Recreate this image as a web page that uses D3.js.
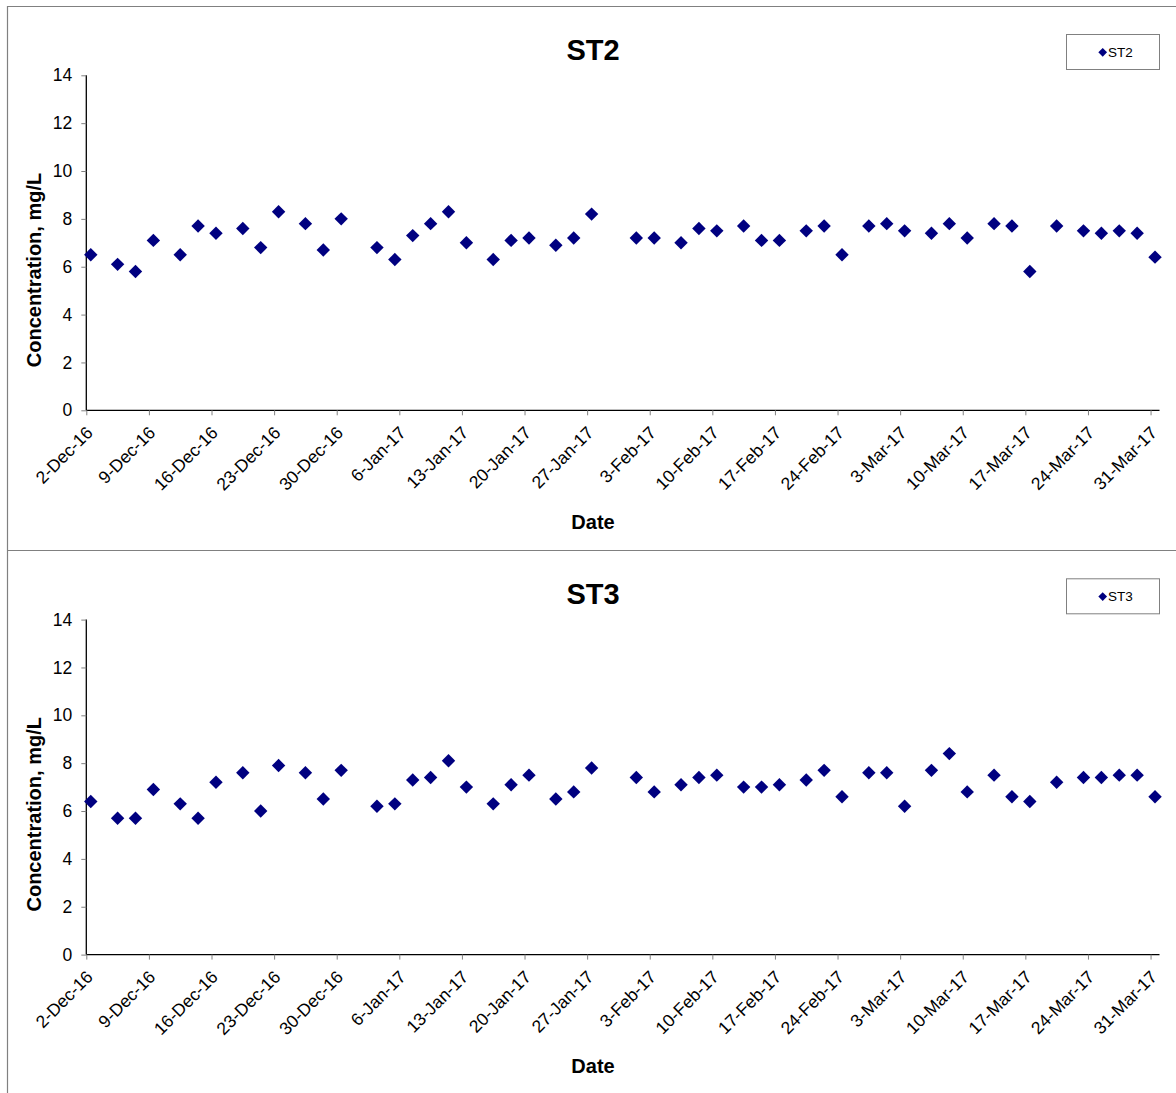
<!DOCTYPE html>
<html>
<head>
<meta charset="utf-8">
<script src="https://cdn.jsdelivr.net/npm/d3@7"></script>
<style>
  html, body { margin: 0; padding: 0; background: #fff; }
  svg { display: block; font-family: Arial, "Liberation Sans", sans-serif; }
</style>
</head>
<body>
<svg id="chart" width="1176" height="1093"></svg>
<script>
// ---- Data ----
const dates = [
  "2016-12-02","2016-12-05","2016-12-07","2016-12-09","2016-12-12","2016-12-14","2016-12-16",
  "2016-12-19","2016-12-21","2016-12-23","2016-12-26","2016-12-28","2016-12-30",
  "2017-01-03","2017-01-05","2017-01-07","2017-01-09","2017-01-11","2017-01-13",
  "2017-01-16","2017-01-18","2017-01-20","2017-01-23","2017-01-25","2017-01-27",
  "2017-02-01","2017-02-03","2017-02-06","2017-02-08","2017-02-10","2017-02-13",
  "2017-02-15","2017-02-17","2017-02-20","2017-02-22","2017-02-24","2017-02-27",
  "2017-03-01","2017-03-03","2017-03-06","2017-03-08","2017-03-10","2017-03-13",
  "2017-03-15","2017-03-17","2017-03-20","2017-03-23","2017-03-25","2017-03-27",
  "2017-03-29","2017-03-31"
];
const st2 = [
  6.5,6.1,5.8,7.1,6.5,7.7,7.4,
  7.6,6.8,8.3,7.8,6.7,8.0,
  6.8,6.3,7.3,7.8,8.3,7.0,
  6.3,7.1,7.2,6.9,7.2,8.2,
  7.2,7.2,7.0,7.6,7.5,7.7,
  7.1,7.1,7.5,7.7,6.5,7.7,
  7.8,7.5,7.4,7.8,7.2,7.8,
  7.7,5.8,7.7,7.5,7.4,7.5,
  7.4,6.4
];
const st3 = [
  6.4,5.7,5.7,6.9,6.3,5.7,7.2,
  7.6,6.0,7.9,7.6,6.5,7.7,
  6.2,6.3,7.3,7.4,8.1,7.0,
  6.3,7.1,7.5,6.5,6.8,7.8,
  7.4,6.8,7.1,7.4,7.5,7.0,
  7.0,7.1,7.3,7.7,6.6,7.6,
  7.6,6.2,7.7,8.4,6.8,7.5,
  6.6,6.4,7.2,7.4,7.4,7.5,
  7.5,6.6
];
const tickDates = [
  "2016-12-02","2016-12-09","2016-12-16","2016-12-23","2016-12-30",
  "2017-01-06","2017-01-13","2017-01-20","2017-01-27",
  "2017-02-03","2017-02-10","2017-02-17","2017-02-24",
  "2017-03-03","2017-03-10","2017-03-17","2017-03-24","2017-03-31"
];
const yTicks = [0, 2, 4, 6, 8, 10, 12, 14];
const xDomain = ["2016-12-02", "2017-04-01"];
const panels = [
  { name: "ST2", values: st2 },
  { name: "ST3", values: st3 }
];

// ---- Drawing ----
const svg = d3.select("#chart");
const parse = d3.utcParse("%Y-%m-%d");
const fmt = d3.utcFormat("%-d-%b-%y");
const navy = "#000080";
const panelOffset = 544.3;

const x = d3.scaleUtc()
  .domain(xDomain.map(parse))
  .range([86.3, 1159.5]);

// panel borders
svg.append("line").attr("x1", 7.5).attr("x2", 7.5).attr("y1", 6).attr("y2", 1093)
  .attr("stroke", "#808080").attr("stroke-width", 1.2);
svg.append("line").attr("x1", 7).attr("x2", 1176).attr("y1", 6.5).attr("y2", 6.5)
  .attr("stroke", "#808080").attr("stroke-width", 1.2);
svg.append("line").attr("x1", 7).attr("x2", 1176).attr("y1", 550.5).attr("y2", 550.5)
  .attr("stroke", "#808080").attr("stroke-width", 1.2);

const diamond = d3.symbol().type(d3.symbolSquare).size(90);
const diamondSmall = d3.symbol().type(d3.symbolSquare).size(38);

panels.forEach((p, i) => {
  const g = svg.append("g").attr("transform", `translate(0,${i * panelOffset})`);
  const y = d3.scaleLinear().domain([0, 14]).range([410.3, 75.3]);

  // title
  g.append("text").attr("x", 593).attr("y", 60)
    .attr("text-anchor", "middle").attr("font-size", 29).attr("font-weight", "bold")
    .text(p.name);

  // y axis
  const yAxis = g.append("g").attr("transform", "translate(86.3,0)")
    .call(d3.axisLeft(y).tickValues(yTicks).tickSize(5).tickPadding(9).tickFormat(d3.format("d")));
  yAxis.select(".domain").attr("stroke", "#000").attr("stroke-width", 1.3).attr("d", `M0,${y(14)}V${y(0)}`);
  yAxis.selectAll(".tick line").attr("stroke", "#808080");
  yAxis.selectAll(".tick text").attr("font-size", 17.5).attr("fill", "#000")
    .attr("font-family", "Arial, 'Liberation Sans', sans-serif");

  // x axis
  const xAxis = g.append("g").attr("transform", "translate(0,410.3)")
    .call(d3.axisBottom(x).tickValues(tickDates.map(parse)).tickSize(5).tickFormat(fmt));
  xAxis.select(".domain").attr("stroke", "#000").attr("stroke-width", 1.3)
    .attr("d", `M${x.range()[0]},0H${x.range()[1]}`);
  xAxis.selectAll(".tick line").attr("stroke", "#808080");
  xAxis.selectAll(".tick text")
    .attr("font-size", 17.5).attr("fill", "#000")
    .attr("font-family", "Arial, 'Liberation Sans', sans-serif")
    .attr("text-anchor", "end")
    .attr("dy", null)
    .attr("y", 0)
    .attr("transform", "translate(7,23.5) rotate(-45)");

  // axis titles
  g.append("text").attr("x", 593).attr("y", 529)
    .attr("text-anchor", "middle").attr("font-size", 20).attr("font-weight", "bold")
    .text("Date");
  g.append("text")
    .attr("transform", "translate(41,270) rotate(-90)")
    .attr("text-anchor", "middle").attr("font-size", 20).attr("font-weight", "bold")
    .text("Concentration, mg/L");

  // points
  const data = dates.map((d, k) => ({ date: parse(d), value: p.values[k] }));
  g.append("g").selectAll("path").data(data).join("path")
    .attr("d", diamond)
    .attr("fill", navy)
    .attr("transform", d => `translate(${x(d3.utcHour.offset(d.date, 12))},${y(d.value)}) rotate(45)`);

  // legend
  const lg = g.append("g");
  lg.append("rect").attr("x", 1066.5).attr("y", 34.5).attr("width", 93).attr("height", 35)
    .attr("fill", "#fff").attr("stroke", "#808080").attr("stroke-width", 1);
  lg.append("path").attr("d", diamondSmall).attr("fill", navy)
    .attr("transform", "translate(1102.7,52.3) rotate(45)");
  lg.append("text").attr("x", 1108).attr("y", 57).attr("font-size", 13.5).text(p.name);
});
</script>
</body>
</html>
